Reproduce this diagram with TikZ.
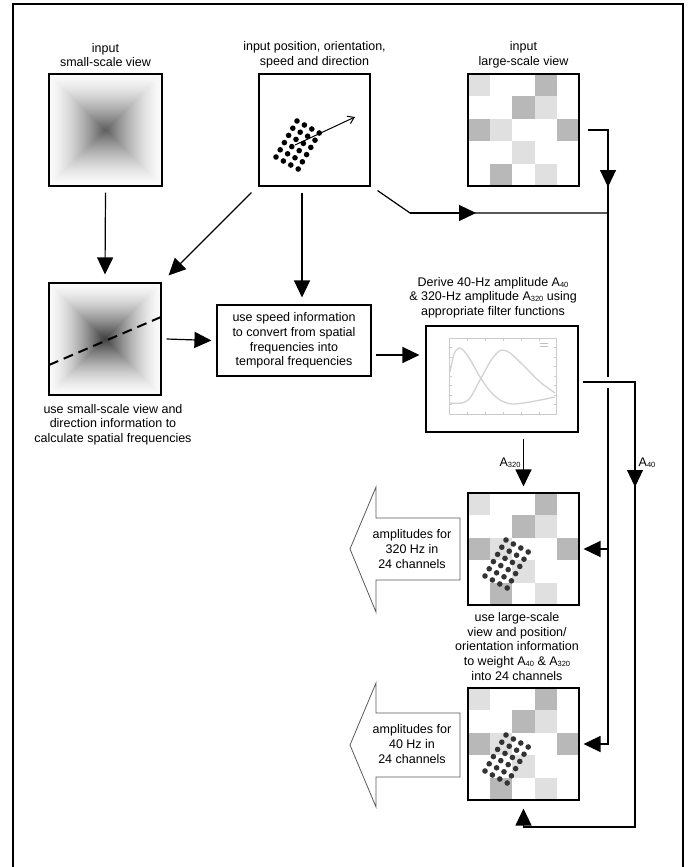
\documentclass[tikz,border=0pt]{standalone}
\usepackage{fontspec}
\setmainfont{Liberation Sans}
\usetikzlibrary{arrows.meta,calc}

\definecolor{lgc}{HTML}{E0E0E0}
\definecolor{mgc}{HTML}{B8B8B8}
\definecolor{edgec}{HTML}{FAFAFA}

\newcommand{\subn}[1]{\raisebox{-1pt}{\fontsize{7.5}{7.5}\selectfont #1}}

% pyramid gradient: x0 y0 x1 y1 centre-colour
\newcommand{\pyr}[5]{%
  \colorlet{pyrc}{#5}%
  \foreach \i in {0,...,55}{%
    \pgfmathsetmacro\pc{100*(\i/55)^1.5}%
    \fill[pyrc!\pc!edgec] ({#1+\i},{#2+\i}) rectangle ({#3-\i},{#4-\i});
  }%
}
% large-scale grid
\newcommand{\lsgrid}[2]{%
  \foreach \c/\r in {0/0,3/1,1/2,2/3,3/4}{\fill[lgc] ({#1+22.2*\c},{#2+22.4*\r}) rectangle ++(22.2,22.4);}%
  \foreach \c/\r in {3/0,2/1,0/2,4/2,1/4}{\fill[mgc] ({#1+22.2*\c},{#2+22.4*\r}) rectangle ++(22.2,22.4);}%
}
% 24 dots
\newcommand{\dotgrid}[3]{%
  \foreach \r in {0,...,5}{\foreach \c in {0,...,3}{%
    \fill[#3] ({#1+38+7.4*\c-4.2*\r},{#2+47+4.0*\c+7.2*\r}) circle (2.8pt);}}%
}

\tikzset{
  arr/.style={-{Triangle[length=17pt,width=16pt]}, line width=1.2pt},
  ln/.style={line width=1.2pt},
  imgbox/.style={draw, line width=1.1pt, inner sep=0pt, minimum width=111pt, minimum height=112pt},
  lbl/.style={align=center, font=\fontsize{12.5}{14.6}\selectfont, inner sep=0pt},
  blockarrow/.style={draw=black!65, line width=0.8pt, fill=white},
  plotline/.style={gray!40, line width=0.5pt},
  curve/.style={gray!35, line width=1.3pt}
}

\begin{document}
\begin{tikzpicture}[x=1pt,y=-1pt]
\useasboundingbox (0,0) rectangle (699,867);
\fill[white] (0,0) rectangle (699,867);

% outer frame
\draw[line width=1.5pt] (13,867) -- (13,4) -- (683,4) -- (683,867);

% top labels
\node[lbl] (t1) at (105.5,55) {input\\small-scale view};
\node[lbl] (t2) at (314.5,55) {input position, orientation,\\speed and direction};
\node[lbl] (t3) at (523.5,55) {input\\large-scale view};

% input small-scale view
\pyr{49}{74}{162}{186}{black!62}
\node[imgbox, minimum width=113pt] (ss1) at (105.5,130) {};

% input position box
\dotgrid{259}{74}{black}
\node[imgbox] (pos) at (314.5,130) {};
\draw[line width=1pt, -{Straight Barb[length=6pt,width=8pt]}] (295,145) -- (355,117);

% input large-scale view
\lsgrid{468}{74}
\node[imgbox] (ls) at (523.5,130) {};

% small-scale view with direction
\pyr{49}{283}{161}{395}{black!75}
\draw[line width=2pt, dash pattern=on 10pt off 6pt] (49,365) -- (161,317);
\node[imgbox, minimum width=112pt] (ss2) at (105,339) {};
\node[lbl] (t4) at (113,424.5) {use small-scale view and\\direction information to\\calculate spatial frequencies};

% speed box
\node[draw, line width=1.1pt, minimum width=154pt, minimum height=71pt, lbl] (speed) at (294,340.5)
  {use speed information\\to convert from spatial\\frequencies into\\temporal frequencies};

% filter-function graph
\node[lbl] (t5) at (493,297.5) {Derive 40-Hz amplitude A\subn{40}\\\& 320-Hz amplitude A\subn{320} using\\appropriate filter functions};
\node[imgbox, minimum width=152pt, minimum height=106pt] (graph) at (502,379) {};
\draw[plotline] (449,338) rectangle (556,414);
\foreach \x in {449,467,485,503,521,539,556}{\draw[plotline] (\x,414) -- (\x,411.5) (\x,338) -- (\x,340.5);}
\foreach \k in {0,...,8}{\draw[plotline] (449,{338+9.5*\k}) -- (451.5,{338+9.5*\k}) (556,{338+9.5*\k}) -- (553.5,{338+9.5*\k});}
\draw[curve] plot[smooth] coordinates {(450,372) (454,354) (459,348) (464,351) (471,361) (480,377) (490,391) (500,400) (512,404) (530,402) (555,397)};
\draw[curve] plot[smooth] coordinates {(450,403) (462,403) (470,398) (480,380) (490,362) (497,353) (502,350) (510,353) (525,367) (540,382) (555,393)};
\draw[gray!50, line width=0.4pt] (540,343) -- (548,343) (540,346) -- (548,346);

% output boxes
\lsgrid{468}{493}
\dotgrid{468}{493}{black!80}
\node[imgbox] (out1) at (523.5,549) {};
\node[lbl] (t6) at (517,646.5) {use large-scale\\view and position/\\orientation information\\to weight A\subn{40} \& A\subn{320}\\into 24 channels};

\lsgrid{468}{688}
\dotgrid{468}{688}{black!80}
\node[imgbox] (out2) at (523.5,744) {};

% block arrows
\draw[blockarrow] (350,549) -- (376,487) -- (376,518) -- (460,518) -- (460,580) -- (376,580) -- (376,612) -- cycle;
\node[lbl] (amp1) at (412,549) {amplitudes for\\320 Hz in\\24 channels};
\draw[blockarrow] (350,745) -- (376,683) -- (376,713) -- (460,713) -- (460,777) -- (376,777) -- (376,807) -- cycle;
\node[lbl] (amp2) at (412,744) {amplitudes for\\40 Hz in\\24 channels};

% connectors
\draw[arr] ([yshift=-6pt]ss1.south) -- ([yshift=8pt]ss2.north);
\draw[arr] ([shift={(-7,6)}]pos.south west) -- ([shift={(7,-7)}]ss2.north east);
\draw[arr] ([shift={(-12.5,6)}]pos.south) -- ([shift={(8,-7)}]speed.north);
\draw[arr] ([xshift=5pt]ss2.east) -- ([xshift=-5pt]speed.west);
\draw[arr] ([shift={(4,14.5)}]speed.east) -- ([shift={(-6,-24)}]graph.west);

\coordinate (k1) at (410,213);
\coordinate (k2) at (476,213);
\coordinate (j1) at (608,213);
\draw[ln] ([shift={(7,4)}]pos.south east) -- (k1) -- (j1);
\draw[arr] (k1) -- (k2);

\coordinate (c1) at (608,130);
\coordinate (c2) at (608,187);
\coordinate (c3) at (608,744);
\coordinate (b1) at (608,549);
\draw[arr] ([xshift=8pt]ls.east) -- (c1) -- (c3) -- ([xshift=4pt]out2.east);
\draw[arr] (c1) -- (c2);
\draw[arr] (b1) -- ([xshift=4pt]out1.east);

\coordinate (d0) at (608,382);
\coordinate (d1) at (635,382);
\coordinate (d2) at (635,487);
\coordinate (d3) at (635,827);
\coordinate (d4) at (523.5,827);
\draw[white, line width=11pt] ([xshift=-6pt]d0) -- ([xshift=6pt]d0);
\draw[arr] ([shift={(4,3)}]graph.east) -- (d1) -- (d3) -- (d4) -- ([yshift=-8pt]out2.south);
\draw[arr] (d1) -- (d2);

\coordinate (g1) at (out1.north |- graph.south);
\draw[arr] ([yshift=-6pt]g1) -- ([yshift=6pt]out1.north);
\node[lbl] (a320) at (510,463) {A\subn{320}};
\node[lbl] (a40) at (647,463) {A\subn{40}};

\end{tikzpicture}
\end{document}
